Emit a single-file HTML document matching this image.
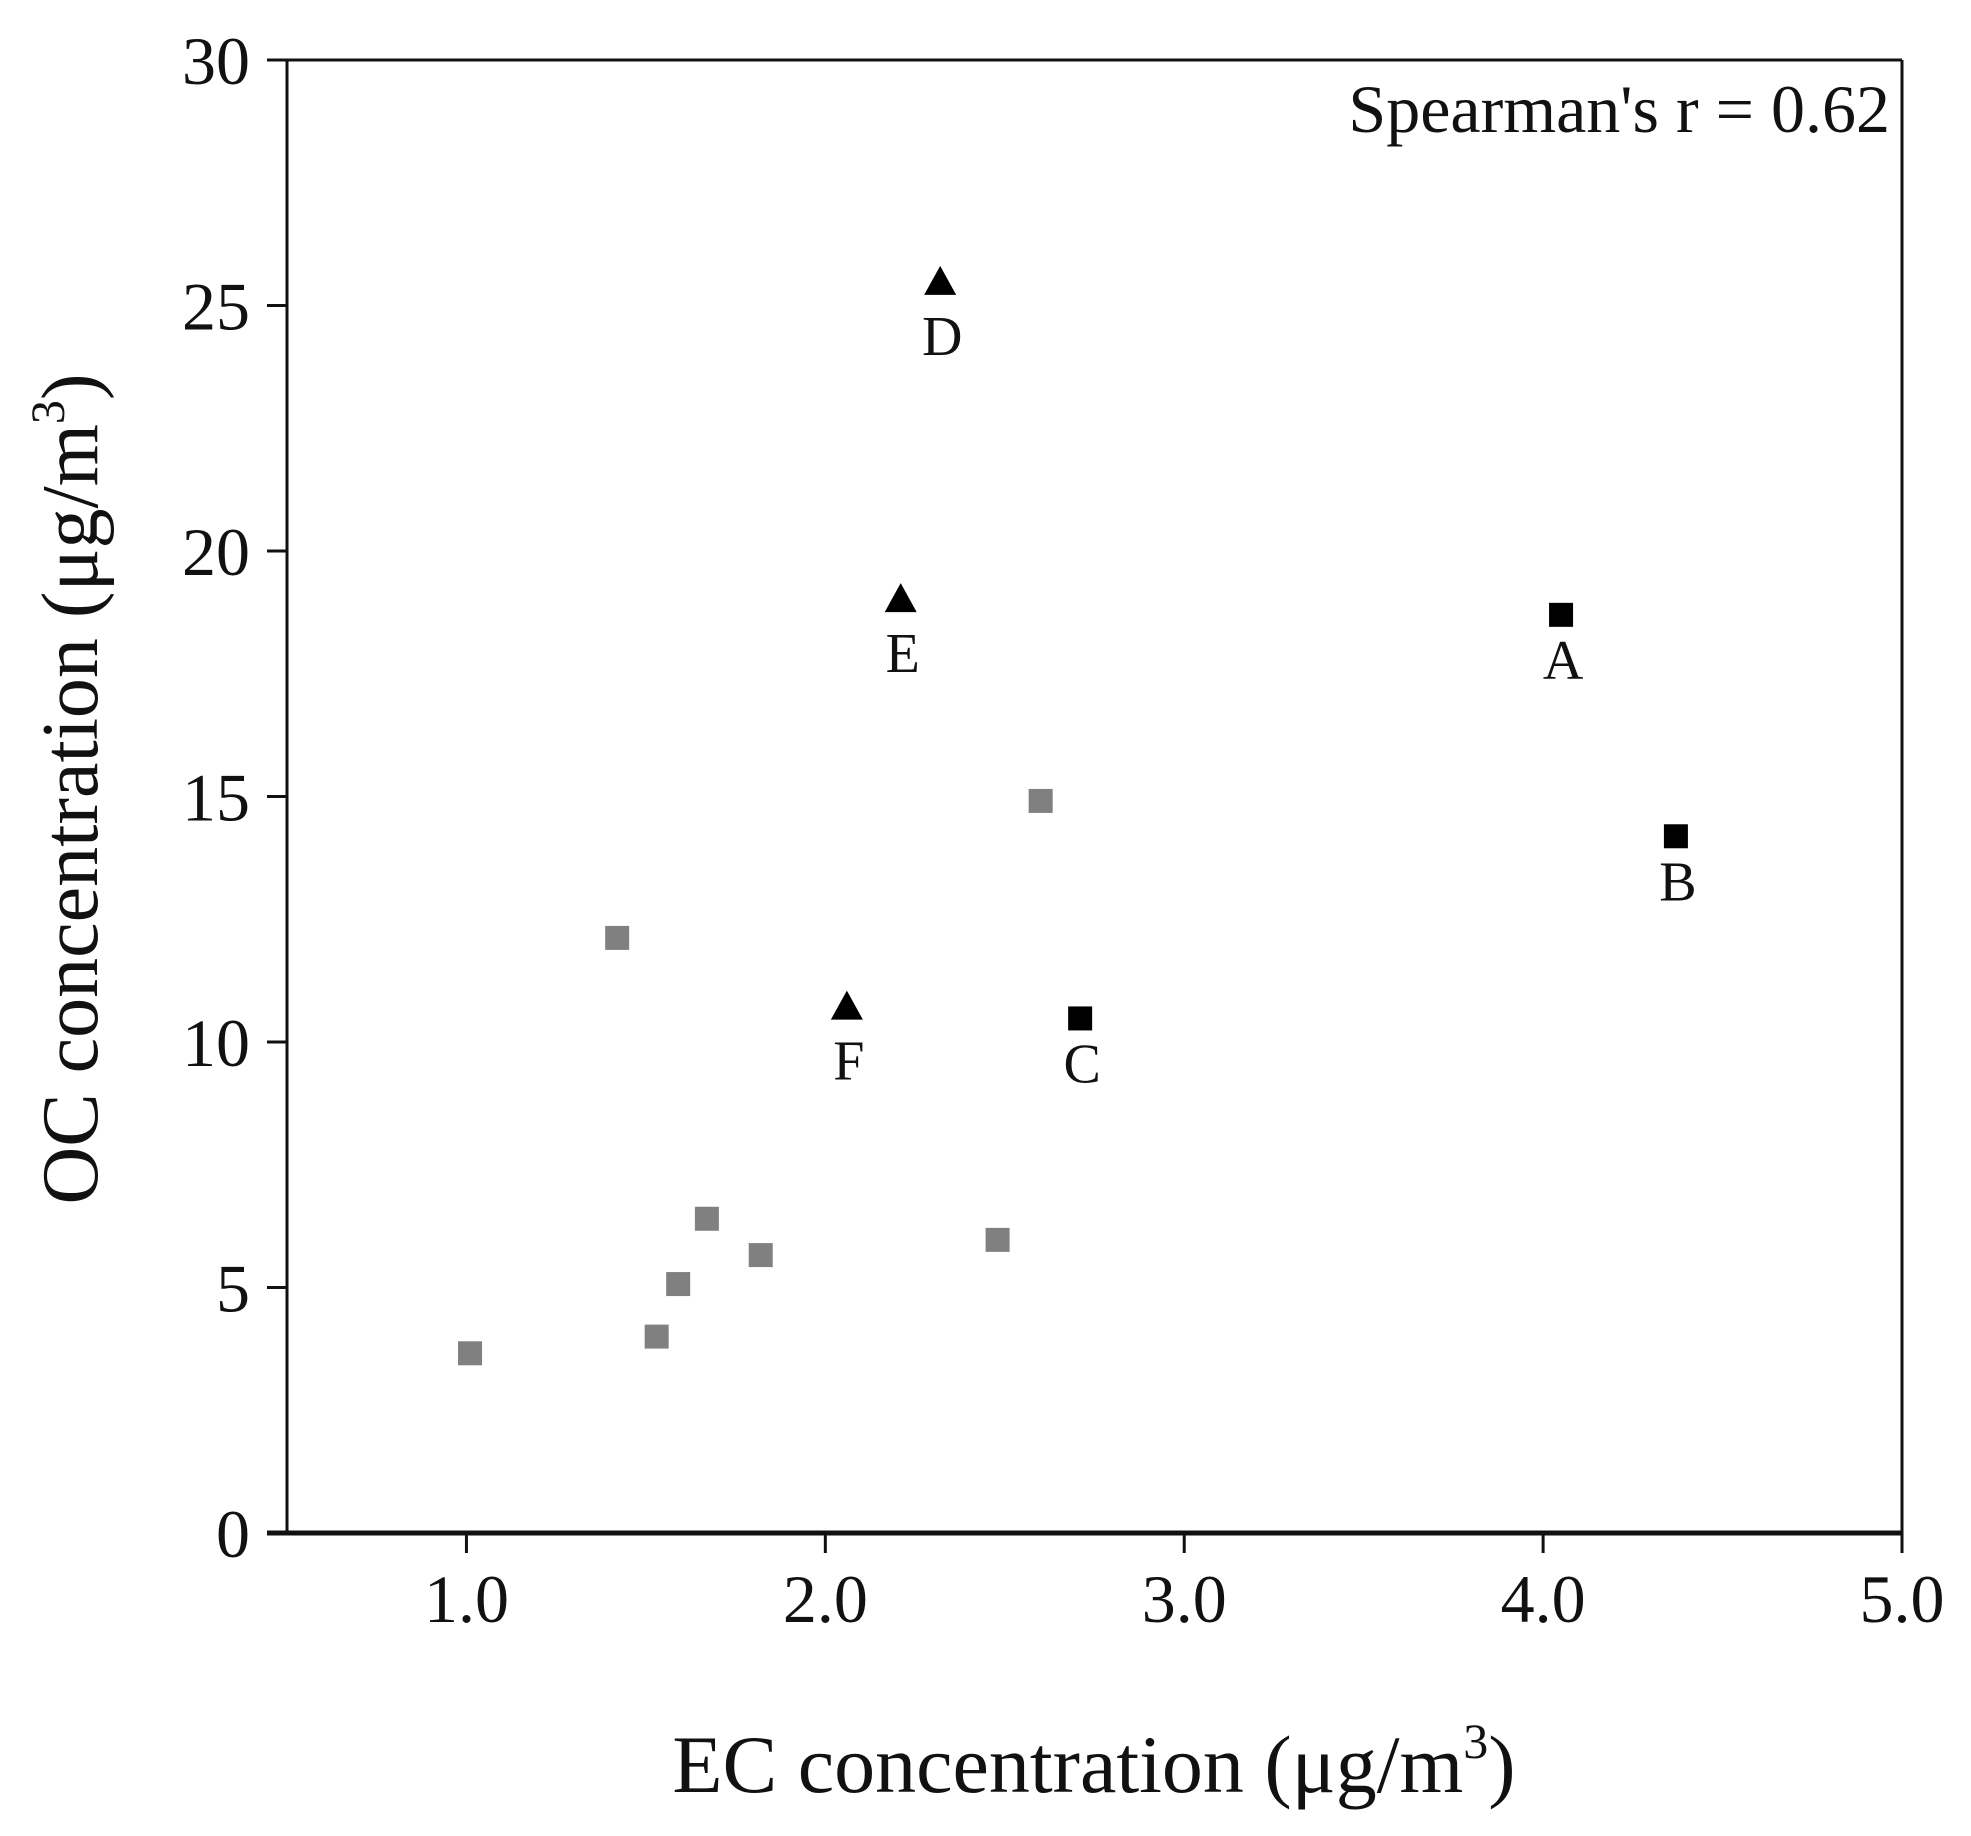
<!DOCTYPE html>
<html><head><meta charset="utf-8"><style>
html,body{margin:0;padding:0;background:#fff;}
svg{display:block;font-family:"Liberation Serif",serif;}
</style></head><body>
<svg id="chart" width="1971" height="1836" viewBox="0 0 1971 1836" xmlns="http://www.w3.org/2000/svg">
<rect width="1971" height="1836" fill="#fff"/>
<g id="axes"></g>
<g id="marks"></g>
<text x="1094" y="1792" text-anchor="middle" font-size="82" fill="#111">EC concentration (μg/m<tspan font-size="50" dy="-34">3</tspan><tspan dy="34">)</tspan></text>
<text transform="translate(97,789) rotate(-90)" text-anchor="middle" font-size="80" fill="#111">OC concentration (μg/m<tspan font-size="48" dy="-33">3</tspan><tspan dy="33">)</tspan></text>
<text x="1890" y="132" text-anchor="end" font-size="68" fill="#111">Spearman's r = 0.62</text>
</svg>
<script>
const grayX = [1.01, 1.42, 1.53, 1.59, 1.67, 1.82, 2.48, 2.60];
const grayY = [3.66, 12.12, 4.0, 5.07, 6.4, 5.66, 5.97, 14.91];
const sqLabels = ["A", "B", "C"];
const sqX = [4.05, 4.37, 2.71];
const sqY = [18.70, 14.19, 10.48];
const triLabels = ["D", "E", "F"];
const triX = [2.32, 2.21, 2.06];
const triY = [25.44, 18.98, 10.68];
const xTicks = [1.0, 2.0, 3.0, 4.0, 5.0];
const xTickLabels = ["1.0", "2.0", "3.0", "4.0", "5.0"];
const yTicks = [0, 5, 10, 15, 20, 25, 30];
const yTickLabels = ["0", "5", "10", "15", "20", "25", "30"];

const X0 = 287, X1 = 1902, Y0 = 1533, Y1 = 60;
const xMin = 0.5, xMax = 5.0, yMin = 0, yMax = 30;
function sx(v){ return X0 + (v - xMin) / (xMax - xMin) * (X1 - X0); }
function sy(v){ return Y0 - (v - yMin) / (yMax - yMin) * (Y0 - Y1); }
const NS = "http://www.w3.org/2000/svg";
function mk(tag, attrs, parent){
  const e = document.createElementNS(NS, tag);
  for (const k in attrs) e.setAttribute(k, attrs[k]);
  parent.appendChild(e);
  return e;
}
const axes = document.getElementById('axes');
const marks = document.getElementById('marks');

let l = mk('line', {x1:X0, y1:Y1, x2:X0, y2:Y0, stroke:'#111', 'stroke-width':3}, axes);


l = mk('line', {x1:X0-20, y1:Y1, x2:X1, y2:Y1, stroke:'#111', 'stroke-width':3}, axes);


l = mk('line', {x1:X1, y1:Y1, x2:X1, y2:Y0, stroke:'#111', 'stroke-width':3}, axes);


l = mk('line', {x1:X0-20, y1:Y0, x2:X1, y2:Y0, stroke:'#111', 'stroke-width':5}, axes);



yTicks.forEach((v, i) => {
  const y = sy(v);
  const t = mk('line', {x1:X0-20, y1:y, x2:X0, y2:y, stroke:'#111', 'stroke-width':3}, axes);
  
  
  const tx = mk('text', {x:250, y:y+24, 'text-anchor':'end', 'font-size':68, fill:'#111'}, axes);
  tx.textContent = yTickLabels[i];
  
  
});
xTicks.forEach((v, i) => {
  const x = sx(v);
  const t = mk('line', {x1:x, y1:Y0, x2:x, y2:Y0+20, stroke:'#111', 'stroke-width':3}, axes);
  
  
  const tx = mk('text', {x:x, y:1622, 'text-anchor':'middle', 'font-size':68, fill:'#111'}, axes);
  tx.textContent = xTickLabels[i];
  
  
});

grayX.forEach((v, i) => {
  const r = mk('rect', {x:sx(v)-12, y:sy(grayY[i])-12, width:24, height:24, fill:'#808080'}, marks);
  
  
});
sqX.forEach((v, i) => {
  const cx = sx(v), cy = sy(sqY[i]);
  const r = mk('rect', {x:cx-12, y:cy-12, width:24, height:24, fill:'#000'}, marks);
  
  
  const t = mk('text', {x:cx+2, y:cy+64, 'text-anchor':'middle', 'font-size':56, fill:'#111'}, marks);
  t.textContent = sqLabels[i];
  
  
});
triX.forEach((v, i) => {
  const cx = sx(v), cy = sy(triY[i]);
  const p = mk('polygon', {points:`${cx},${cy-18} ${cx-16},${cy+11} ${cx+16},${cy+11}`, fill:'#000'}, marks);
  
  
  const t = mk('text', {x:cx+2, y:cy+71, 'text-anchor':'middle', 'font-size':56, fill:'#111'}, marks);
  t.textContent = triLabels[i];
  
  
});
</script>
</body></html>
